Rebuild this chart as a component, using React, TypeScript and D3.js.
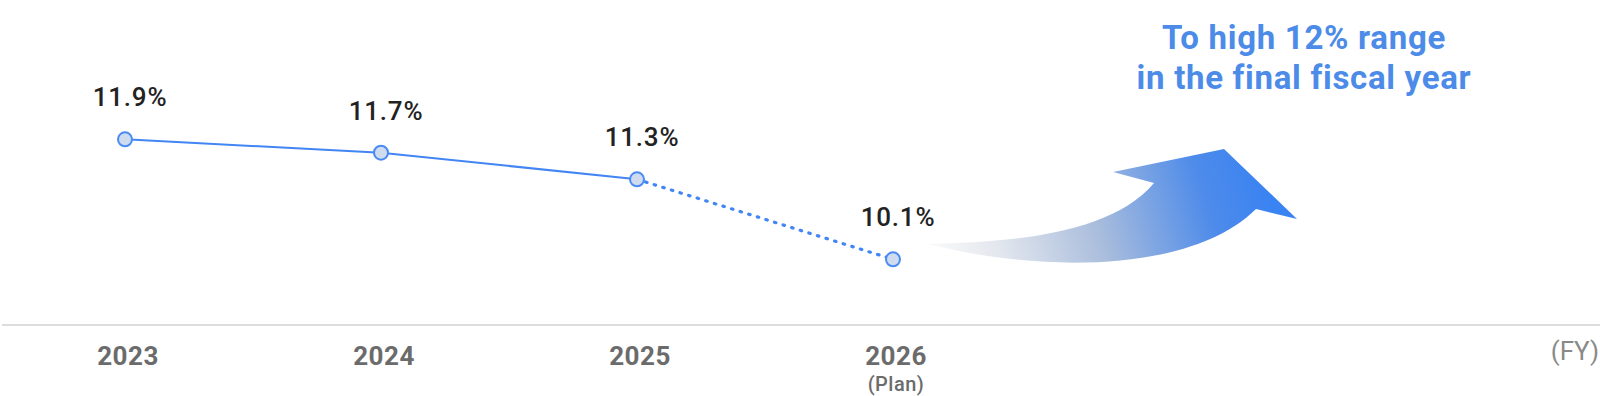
import React from "react";
import * as d3 from "d3";

const years = ["2023", "2024", "2025", "2026"];
const values = [11.9, 11.7, 11.3, 10.1];
const subLabels = ["", "", "", "(Plan)"];
const actualCount = 3; // first 3 points are actuals (solid), last is plan (dotted)
const noteLines = ["To high 12% range", "in the final fiscal year"];
const unitLabel = "(FY)";

const W = 1600;
const H = 396;

export default function App() {
  const x = d3.scalePoint<string>().domain(years).range([125, 893]);
  const y = d3.scaleLinear().domain([9, 13]).range([332.6, 66]);
  const pts = years.map((yr, i) => ({ yr, v: values[i], x: x(yr) as number, y: y(values[i]) }));
  const line = d3
    .line<{ x: number; y: number }>()
    .x((d) => d.x)
    .y((d) => d.y);
  const solid = pts.slice(0, actualCount);
  const dotted = pts.slice(actualCount - 1);
  const axisY = 325;
  const font = "Roboto, 'Noto Sans', sans-serif";

  const arrowPath =
    "M 928 244 C 1010 242, 1110 235, 1154 183 L 1113 172 L 1224 149 L 1297 219 L 1256 209 C 1195 270, 1050 275, 928 244 Z";

  return (
    <svg
      width={W}
      height={H}
      style={{ position: "absolute", left: 0, top: 0, background: "#fff" }}
    >
      <defs>
        <linearGradient id="arrowGrad" gradientUnits="userSpaceOnUse" x1={930} y1={262} x2={1260} y2={165}>
          <stop offset="0" stopColor="#fbfbfb" />
          <stop offset="0.2" stopColor="#e3e7ee" />
          <stop offset="0.5" stopColor="#a8bcdc" />
          <stop offset="0.82" stopColor="#4e8bea" />
          <stop offset="1" stopColor="#3a83f2" />
        </linearGradient>
      </defs>

      <line x1={2} x2={W} y1={axisY} y2={axisY} stroke="#dcdcdc" strokeWidth={2} />

      <path d={arrowPath} fill="url(#arrowGrad)" />

      <path d={line(solid) || ""} fill="none" stroke="#4285f4" strokeWidth={2} />
      <path
        d={line(dotted) || ""}
        fill="none"
        stroke="#4285f4"
        strokeWidth={3.2}
        strokeDasharray="1.5 7.5"
        strokeLinecap="round"
      />

      {pts.map((p) => (
        <circle key={p.yr} cx={p.x} cy={p.y} r={7} fill="#cfdcef" stroke="#4a8af4" strokeWidth={2} />
      ))}

      {pts.map((p) => (
        <text
          key={"v" + p.yr}
          x={p.x + 5}
          y={p.y - 33}
          textAnchor="middle"
          fontFamily={font}
          fontSize={26}
          fontWeight={500}
          fill="#222"
          letterSpacing={0.8}
        >
          {p.v.toFixed(1) + "%"}
        </text>
      ))}

      {pts.map((p, i) => (
        <g key={"x" + p.yr}>
          <text
            x={p.x + 3}
            y={364.5}
            textAnchor="middle"
            fontFamily={font}
            fontSize={26}
            fontWeight={700}
            fill="#6b6b6b"
            letterSpacing={0.5}
          >
            {p.yr}
          </text>
          {subLabels[i] && (
            <text
              x={p.x + 3}
              y={391}
              textAnchor="middle"
              fontFamily={font}
              fontSize={20}
              fontWeight={500}
              fill="#6b6b6b"
              letterSpacing={0.5}
            >
              {subLabels[i]}
            </text>
          )}
        </g>
      ))}

      <text
        x={1599}
        y={359.5}
        textAnchor="end"
        fontFamily={font}
        fontSize={26}
        fontWeight={400}
        fill="#8a8a8a"
      >
        {unitLabel}
      </text>

      {noteLines.map((t, i) => (
        <text
          key={t}
          x={1304}
          y={49 + i * 39.5}
          textAnchor="middle"
          fontFamily={font}
          fontSize={33}
          fontWeight={700}
          fill="#4c8be8"
          letterSpacing={0.7}
        >
          {t}
        </text>
      ))}
    </svg>
  );
}
